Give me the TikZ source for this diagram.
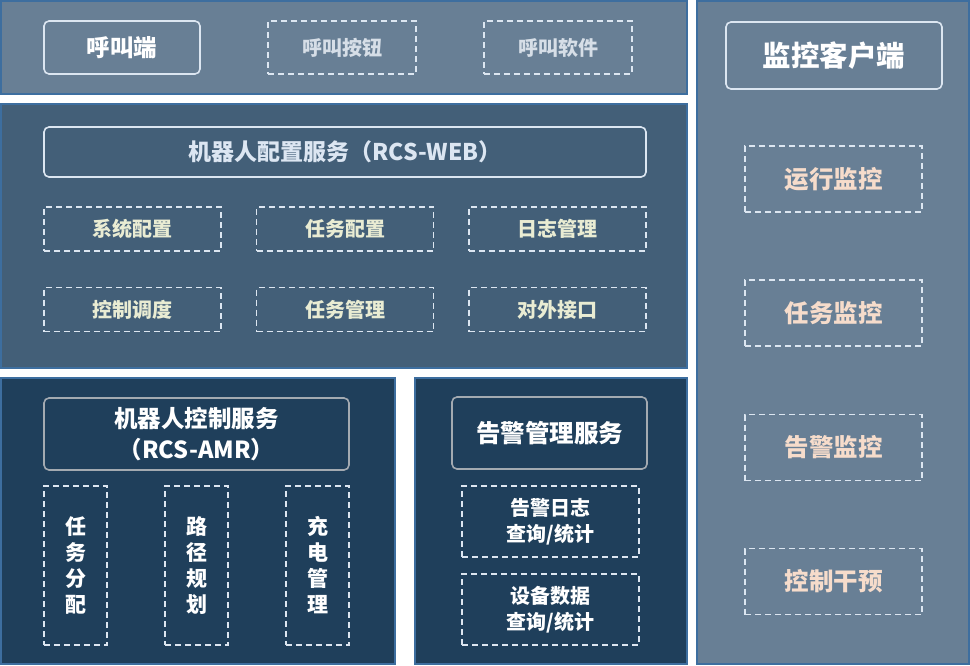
\documentclass[tikz,border=0pt]{standalone}
\usepackage{fontspec}
\setmainfont{Noto Sans CJK SC}
\usetikzlibrary{positioning}
\definecolor{panelA}{HTML}{687F95}
\definecolor{panelB}{HTML}{435F78}
\definecolor{panelC}{HTML}{1F3F5B}
\definecolor{edgeblue}{HTML}{3D6E9F}
\definecolor{lightline}{HTML}{DCE6F1}
\definecolor{grayline}{HTML}{A3AAB1}
\definecolor{txtgray}{HTML}{D6DEE7}
\definecolor{txtyel}{HTML}{E9ECD3}
\definecolor{txtpeach}{HTML}{F6DCCB}
\definecolor{txttitle}{HTML}{DCE6F2}
\tikzset{
  panel/.style={draw=edgeblue, line width=1.6pt},
  solidbox/.style={draw=lightline, line width=1.6pt, rounded corners=5pt, inner sep=0pt, align=center, font=\bfseries},
  graybox/.style={draw=grayline, line width=1.6pt, rounded corners=5pt, inner sep=0pt, align=center, text=white, font=\bfseries},
  dashbox/.style={draw=lightline, line width=1.6pt, dash pattern=on 6pt off 4pt, inner sep=0pt, align=center, font=\bfseries}
}
\begin{document}
\begin{tikzpicture}[x=1pt, y=-1pt]
\useasboundingbox (0,0) rectangle (970,665);
\fill[white] (0,0) rectangle (970,665);
% panels
\draw[panel, fill=panelA] (0.8,0.8) rectangle (687,94);
\draw[panel, fill=panelB] (0.8,104) rectangle (687,368);
\draw[panel, fill=panelC] (0.8,378) rectangle (395,664.2);
\draw[panel, fill=panelC] (415,378) rectangle (687,664.2);
\draw[panel, fill=panelA] (697,0.8) rectangle (969.2,664.2);
% top panel
\node[solidbox, text=white, minimum width=156pt, minimum height=53pt, font=\bfseries\fontsize{23.5}{27}\selectfont] (hjd) at (122,47.5) {呼叫端};
\node[dashbox, text=txtgray, minimum width=148pt, minimum height=53pt, font=\bfseries\fontsize{20}{24}\selectfont] (hjan) at (342,47.5) {呼叫按钮};
\node[dashbox, text=txtgray, minimum width=148pt, minimum height=53pt, font=\bfseries\fontsize{20}{24}\selectfont] (hjrj) at (558,47.5) {呼叫软件};
% middle panel
\node[solidbox, text=txttitle, minimum width=602pt, minimum height=50pt, font=\bfseries\fontsize{23}{27}\selectfont] (web) at (345,152) {机器人配置服务（RCS-WEB）};
\tikzset{mid/.style={dashbox, text=txtyel, minimum width=177pt, minimum height=44pt, font=\bfseries\fontsize{20}{24}\selectfont}}
\node[mid] (xtpz) at (132.5,229) {系统配置};
\node[mid] (rwpz) at (345,229) {任务配置};
\node[mid] (rzgl) at (557.5,229) {日志管理};
\node[mid] (kzdd) at (132.5,309.5) {控制调度};
\node[mid] (rwgl) at (345,309.5) {任务管理};
\node[mid] (dwjk) at (557.5,309.5) {对外接口};
% bottom left
\node[graybox, minimum width=305pt, minimum height=72pt, font=\bfseries\fontsize{23.5}{31}\selectfont] (amr) at (196.5,434) {机器人控制服务\\（RCS-AMR）};
\tikzset{vert/.style={dashbox, text=white, minimum width=63pt, minimum height=159pt, font=\bfseries\fontsize{21}{26}\selectfont}}
\node[vert] (rwfp) at (75.5,565.5) {任\\务\\分\\配};
\node[vert] (ljgh) at (196.5,565.5) {路\\径\\规\\划};
\node[vert] (cdgl) at (317.5,565.5) {充\\电\\管\\理};
% bottom middle
\node[graybox, minimum width=195pt, minimum height=72pt, font=\bfseries\fontsize{24.5}{29}\selectfont] (gjgl) at (549.5,433) {告警管理服务};
\tikzset{alm/.style={dashbox, text=white, minimum width=177pt, minimum height=71pt, font=\bfseries\fontsize{20}{26.5}\selectfont}}
\node[alm] (gjrz) at (550.5,521.5) {告警日志\\查询/统计};
\node[alm] (sbsj) at (550.5,609.5) {设备数据\\查询/统计};
% right panel
\node[solidbox, text=white, minimum width=216pt, minimum height=67pt, font=\bfseries\fontsize{28.5}{33}\selectfont] (jkkhd) at (834,55.5) {监控客户端};
\tikzset{mon/.style={dashbox, text=txtpeach, minimum width=177pt, minimum height=66pt, font=\bfseries\fontsize{24.5}{29}\selectfont}}
\node[mon] (yxjk) at (833.5,179) {运行监控};
\node[mon] (rwjk) at (833.5,313) {任务监控};
\node[mon] (gjjk) at (833.5,447.5) {告警监控};
\node[mon] (kzgy) at (833.5,581.5) {控制干预};
\end{tikzpicture}
\end{document}
